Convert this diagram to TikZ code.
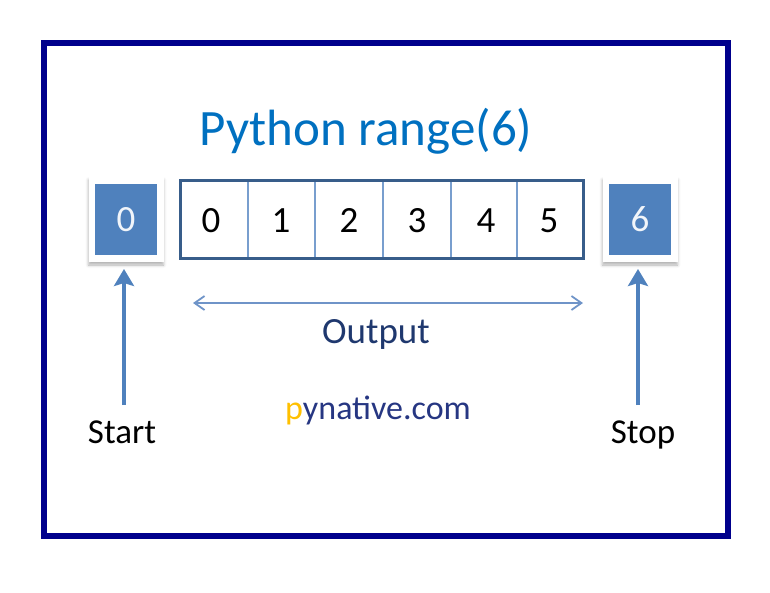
\documentclass[tikz,border=0pt]{standalone}
\usepackage{fontspec}
\setmainfont{Carlito}
\usetikzlibrary{arrows.meta,shadows.blur}
\definecolor{frameblue}{RGB}{0,0,140}
\definecolor{titleblue}{RGB}{0,112,192}
\definecolor{boxblue}{RGB}{79,129,189}
\definecolor{arrdark}{RGB}{56,93,138}
\definecolor{divblue}{RGB}{120,158,206}
\definecolor{dblarrow}{RGB}{111,148,200}
\definecolor{outtext}{RGB}{31,56,110}
\definecolor{pyorange}{RGB}{255,192,0}
\definecolor{pyblue}{RGB}{38,54,130}
\tikzset{
  digit/.style={anchor=base,font=\fontsize{37}{40}\selectfont,inner sep=0pt},
  label/.style={anchor=base,font=\fontsize{35}{40}\selectfont,inner sep=0pt},
  holder/.style={draw=none,fill=white,minimum width=75pt,minimum height=85pt,inner sep=0pt,
    blur shadow={shadow xshift=0pt,shadow yshift=-3pt,shadow blur radius=3pt,shadow opacity=30}},
  bluebox/.style={fill=boxblue,minimum width=62pt,minimum height=71pt,inner sep=0pt,
    text=white!92!boxblue,font=\fontsize{37}{40}\selectfont},
  uparrow/.style={draw=boxblue,line width=4pt,-{Stealth[width=20pt,length=17pt,inset=3pt]}},
  bothways/.style={draw=dblarrow,line width=1.8pt,{Straight Barb[length=10pt,width=14pt]}-{Straight Barb[length=10pt,width=14pt]}}
}
\begin{document}
\begin{tikzpicture}[x=1pt,y=-1pt]
\useasboundingbox (0,0) rectangle (770,592);
% outer frame
\draw[frameblue,line width=6pt] (43.5,43) rectangle (728,536);
% title
\node[anchor=base,inner sep=0pt,text=titleblue,font=\fontsize{51}{56}\selectfont] (title) at (366,145) {Python range(6)};
% start box
\node[holder] (starthold) at (126,219.5) {};
\node[bluebox] (startbox) at (126,219.5) {\raisebox{1pt}{0}};
% stop box
\node[holder] (stophold) at (640,219.5) {};
\node[bluebox] (stopbox) at (640,219.5) {\raisebox{1pt}{6}};
% array cells
\foreach \x in {248,315,383,451,517}{
  \draw[divblue,line width=2pt] (\x,180) -- (\x,258);
}
\draw[arrdark,line width=3pt] (180,180) rectangle (583,258);
\node[digit] (c0) at (211,232) {0};
\node[digit] (c1) at (281,232) {1};
\node[digit] (c2) at (349,232) {2};
\node[digit] (c3) at (417,232) {3};
\node[digit] (c4) at (486,232) {4};
\node[digit] (c5) at (549,232) {5};
% output arrow
\coordinate (oa) at (193,303);
\coordinate (ob) at (583,303);
\draw[bothways] (oa) -- (ob);
\node[label,text=outtext,font=\fontsize{37}{40}\selectfont] (output) at (376,343) {Output};
% start / stop arrows
\coordinate (sa) at (124,405);
\coordinate (sb) at (124,269);
\draw[uparrow] (sa) -- (sb);
\coordinate (ta) at (638,405);
\coordinate (tb) at (638,269);
\draw[uparrow] (ta) -- (tb);
\node[label] (start) at (122,443) {Start};
\node[label] (stop) at (643,443) {Stop};
% site name
\node[anchor=base,inner sep=0pt,font=\fontsize{34}{40}\selectfont] (site) at (378,419) {\textcolor{pyorange}{p}\textcolor{pyblue}{ynative.com}};
\end{tikzpicture}
\end{document}
